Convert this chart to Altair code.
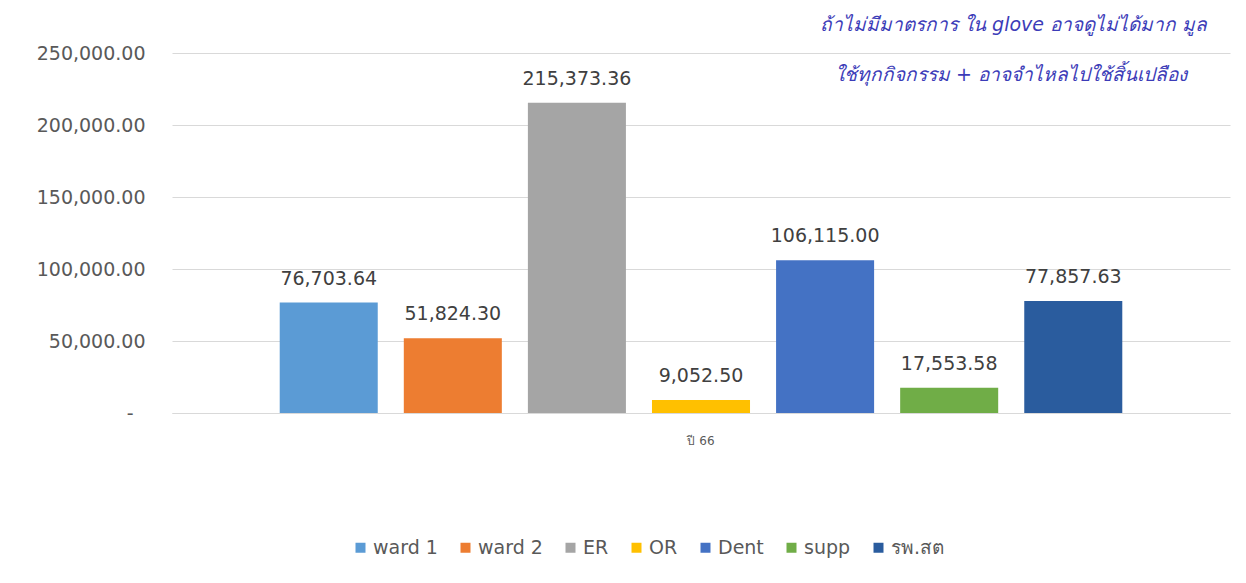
import altair as alt
import pandas as pd

# ---- data ----
series = ["ward 1", "ward 2", "ER", "OR", "Dent", "supp", "รพ.สต"]
values = [76703.64, 51824.30, 215373.36, 9052.50, 106115.00, 17553.58, 77857.63]
colors = ["#5B9BD5", "#ED7D31", "#A5A5A5", "#FFC000", "#4472C4", "#70AD47", "#2A5C9E"]
year = "ปี 66"
y_ticks = [0, 50000, 100000, 150000, 200000, 250000]
note_lines = [
    "ถ้าไม่มีมาตรการ ใน glove  อาจดูไม่ได้มาก มูล",
    "ใช้ทุกกิจกรรม  +  อาจจำไหลไปใช้สิ้นเปลือง",
]

df = pd.DataFrame({"year": [year] * len(series), "series": series, "value": values})
df["label"] = [f"{v:,.2f}" for v in values]

FONT = "DejaVu Sans"

base = alt.Chart(df).encode(
    x=alt.X(
        "year:N",
        title=None,
        scale=alt.Scale(paddingOuter=0.109, paddingInner=0),
        axis=alt.Axis(
            labelAngle=0, labelFontSize=12, labelColor="#595959", labelPadding=22,
            ticks=False, domainColor="#d9d9d9", labelFont=FONT,
        ),
    ),
    xOffset=alt.XOffset(
        "series:N", sort=series,
        scale=alt.Scale(paddingInner=0.21, paddingOuter=0.105),
    ),
)

bars = base.mark_bar().encode(
    y=alt.Y(
        "value:Q",
        title=None,
        scale=alt.Scale(domain=[0, 250000], nice=False),
        axis=alt.Axis(
            values=y_ticks,
            labelExpr="datum.value == 0 ? '-' : format(datum.value, ',.2f')",
            labelFontSize=19, labelColor="#595959", labelFont=FONT,
            labelPadding={"condition": {"test": "datum.value == 0", "value": 39}, "value": 27},
            ticks=False, domain=False,
            gridColor="#d9d9d9",
        ),
    ),
    color=alt.Color(
        "series:N",
        sort=series,
        scale=alt.Scale(domain=series, range=colors),
        legend=alt.Legend(
            title=None, orient="none", direction="horizontal", columns=7,
            legendX=179, legendY=485, symbolType="square", symbolSize=100,
            symbolStrokeWidth=0, labelFontSize=19, labelColor="#595959",
            labelFont=FONT, labelOffset=3, columnPadding=18,
        ),
    ),
)

labels = base.mark_text(
    dy=-24, baseline="middle", fontSize=19, color="#404040", font=FONT
).encode(y="value:Q", text="label:N")

note1 = alt.Chart(pd.DataFrame({"t": [note_lines[0]]})).mark_text(
    align="left", baseline="middle", fontSize=19, fontStyle="italic",
    color="#3C3CB8", font=FONT,
).encode(x=alt.value(648), y=alt.value(-28), text="t:N")

note2 = alt.Chart(pd.DataFrame({"t": [note_lines[1]]})).mark_text(
    align="left", baseline="middle", fontSize=19, fontStyle="italic",
    color="#3C3CB8", font=FONT,
).encode(x=alt.value(663), y=alt.value(22), text="t:N")

chart = alt.layer(bars, labels, note1, note2).properties(
    width=1058,
    height=360,
    background="white",
    autosize=alt.AutoSizeParams(type="none"),
    padding={"left": 164, "top": 45, "right": 8, "bottom": 162},
).configure_view(stroke=None)

chart.save("out.html", embed_options={"renderer": "svg", "actions": False})
